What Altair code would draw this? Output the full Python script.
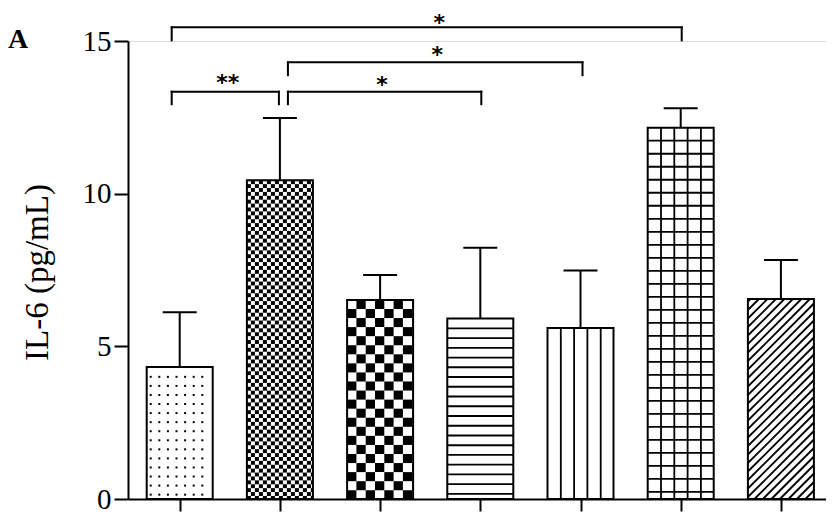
import altair as alt
import pandas as pd
import numpy as np

# ---------------- data ----------------
groups = ["1", "2", "3", "4", "5", "6", "7"]
means = [4.32, 10.44, 6.52, 5.91, 5.60, 12.16, 6.55]
sds = [1.80, 2.04, 0.82, 2.32, 1.88, 0.64, 1.28]
patterns = ["dots", "fine", "check", "hlines", "vlines", "grid", "diag"]
y_ticks = [0, 5, 10, 15]

# significance brackets (group positions / IL-6 levels)
br_left = [0.92, 0.92, 2.08, 2.08]
br_right = [6.01, 1.99, 4.01, 5.02]
br_level = [15.45, 13.34, 13.34, 14.30]
br_drop = [15.02, 12.93, 12.93, 13.88]
star_text = ["*", "**", "*", "*"]
star_x = [3.59, 1.48, 3.02, 3.57]
star_y = [15.76, 13.79, 13.72, 14.70]

# ---------------- geometry / style ----------------
PW, PH = 698, 458
XU = 100.2              # px per group unit
YU = PH / 15.0          # px per IL-6 unit
X_DOM = [0.484, 0.484 + PW / XU]
HALF = 33 / XU
CAP = 17 / XU
K = PH / 470.0          # vertical squeeze of pattern pitch

idx = list(range(1, len(groups) + 1))
bars = pd.DataFrame({"g": groups, "i": idx, "mean": means, "sd": sds})
bars["x0"] = bars["i"] - HALF
bars["x1"] = bars["i"] + HALF
bars["base"] = 0.0
bars["top"] = bars["mean"] + bars["sd"]
bars["c0"] = bars["i"] - CAP
bars["c1"] = bars["i"] + CAP

rects, segs, dots = [], [], []
W = 2 * HALF * XU
for i, m, p in zip(idx, means, patterns):
    left = i - HALF
    H = m * YU

    def X(px):
        return left + px / XU

    def Y(py):
        return py / YU

    if p == "dots":
        xs = np.arange(4.0, W - 3.5, 8.6)
        ys = np.arange(H - 10.0 * K, 1.0, -9.3 * K)
        for xx in xs:
            for yy in ys:
                dots.append({"x": X(xx), "y": Y(yy)})
    elif p in ("fine", "check"):
        c = 4.0 if p == "fine" else 9.3
        ch = c * K
        nr = int(np.ceil(H / ch))
        nc = int(np.ceil(W / c))
        for r in range(nr):
            yt = H - r * ch
            yb = max(0.0, H - (r + 1) * ch)
            for q in range(nc):
                if (r + q) % 2 == 1:
                    xl = q * c
                    xr = min(W, (q + 1) * c)
                    rects.append({"x": X(xl), "x2": X(xr), "y": Y(yb), "y2": Y(yt)})
    elif p == "hlines":
        for yy in np.arange(H - 10.0 * K, 0.5, -10.0 * K):
            segs.append({"x": X(0), "x2": X(W), "y": Y(yy), "y2": Y(yy)})
    elif p == "vlines":
        for xx in np.arange(13.3, W - 3, 13.3):
            segs.append({"x": X(xx), "x2": X(xx), "y": 0.0, "y2": m})
    elif p == "grid":
        for xx in np.arange(13.3, W - 3, 13.3):
            segs.append({"x": X(xx), "x2": X(xx), "y": 0.0, "y2": m})
        for yy in np.arange(H - 13.35 * K, 0.5, -13.35 * K):
            segs.append({"x": X(0), "x2": X(W), "y": Y(yy), "y2": Y(yy)})
    elif p == "diag":
        per = 8.5
        for c in np.arange(-W, H, per):
            xs_ = max(0.0, -c)
            xe_ = min(W, H - c)
            if xe_ - xs_ > 0.5:
                segs.append({"x": X(xs_), "x2": X(xe_), "y": Y(xs_ + c), "y2": Y(xe_ + c)})

rects_df = pd.DataFrame(rects)
segs_df = pd.DataFrame(segs)
dots_df = pd.DataFrame(dots)

brk = pd.DataFrame({"l": br_left, "r": br_right, "lev": br_level, "drop": br_drop})
stars = pd.DataFrame({"t": star_text, "x": star_x, "y": star_y})

# ---------------- scales / axes ----------------
xscale = alt.Scale(domain=X_DOM, nice=False, zero=False)
yscale = alt.Scale(domain=[0, 15], nice=False, zero=False)
xaxis = alt.Axis(values=idx, labels=False, title=None, grid=False, tickSize=12,
                 tickWidth=2, tickColor="black", domainWidth=2, domainColor="black")
yaxis = alt.Axis(values=y_ticks, title="IL-6 (pg/mL)", grid=False, tickSize=14,
                 tickWidth=2, tickColor="black", domainWidth=2, domainColor="black",
                 labelFont="Liberation Serif", labelFontSize=29, labelColor="black",
                 labelPadding=3, titleFont="Liberation Serif", titleFontSize=33,
                 titleFontWeight="normal", titleColor="black", titleAngle=270,
                 titleX=-91, titleY=231, titleAlign="center", titleBaseline="middle")


def ex(f):
    return alt.X(f, type="quantitative", scale=xscale, axis=xaxis)


def ey(f):
    return alt.Y(f, type="quantitative", scale=yscale, axis=yaxis)


fill_layer = alt.Chart(bars).mark_rect(fill="white").encode(
    x=ex("x0"), x2="x1", y=ey("base"), y2="mean")
rect_layer = alt.Chart(rects_df).mark_rect(fill="black").encode(
    x=ex("x"), x2="x2", y=ey("y"), y2="y2")
seg_layer = alt.Chart(segs_df).mark_rule(color="black", strokeWidth=1.8).encode(
    x=ex("x"), x2="x2", y=ey("y"), y2="y2")
dot_layer = alt.Chart(dots_df).mark_square(color="black", size=4, opacity=1).encode(
    x=ex("x"), y=ey("y"))
outline = alt.Chart(bars).mark_rect(fillOpacity=0, stroke="black", strokeWidth=2).encode(
    x=ex("x0"), x2="x1", y=ey("base"), y2="mean")
err = alt.Chart(bars).mark_rule(color="black", strokeWidth=2).encode(
    x=ex("i"), y=ey("mean"), y2="top")
cap = alt.Chart(bars).mark_rule(color="black", strokeWidth=2).encode(
    x=ex("c0"), x2="c1", y=ey("top"))
br_h = alt.Chart(brk).mark_rule(color="black", strokeWidth=2, strokeCap="square").encode(
    x=ex("l"), x2="r", y=ey("lev"))
br_l = alt.Chart(brk).mark_rule(color="black", strokeWidth=2, strokeCap="square").encode(
    x=ex("l"), y=ey("drop"), y2="lev")
br_r = alt.Chart(brk).mark_rule(color="black", strokeWidth=2, strokeCap="square").encode(
    x=ex("r"), y=ey("drop"), y2="lev")
star_layer = alt.Chart(stars).mark_text(font="DejaVu Sans", fontSize=22, fontWeight="bold",
                                        color="black", align="center", baseline="middle",
                                        dy=5).encode(
    x=ex("x"), y=ey("y"), text="t:N")

chart = alt.layer(fill_layer, rect_layer, seg_layer, dot_layer, outline, err, cap,
                  br_h, br_l, br_r, star_layer).properties(
    width=PW, height=PH,
    title=alt.TitleParams("A", anchor="start", frame="group", font="Liberation Serif",
                          fontSize=28, fontWeight="bold", color="black",
                          baseline="alphabetic", offset=0, dx=-120, dy=64),
    padding={"left": 120, "top": 33, "right": 0, "bottom": 15},
    autosize=alt.AutoSizeParams(type="none"),
).configure_view(stroke=None).configure(background="white")

chart.save("out.html", embed_options={"renderer": "svg", "actions": False})
